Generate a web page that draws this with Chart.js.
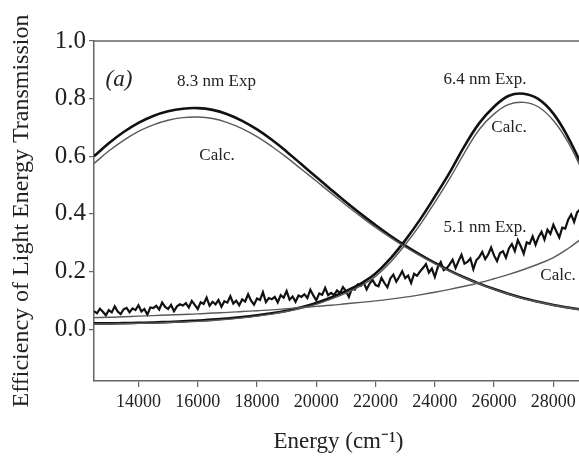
<!DOCTYPE html>
<html><head><meta charset="utf-8">
<script src="https://cdn.jsdelivr.net/npm/chart.js@4/dist/chart.umd.min.js"></script>
<style>html,body{margin:0;padding:0;overflow:hidden;background:#fff}canvas{display:block}</style>
</head><body>
<canvas id="c" width="600" height="457"></canvas>
<script>
// ---- data ----
const energyCoarse = [12500,13000,13500,14000,14500,15000,15500,16000,16500,17000,17500,18000,18500,19000,19500,20000,20500,21000,21500,22000,22500,23000,23500,24000,24500,25000,25500,26000,26500,27000,27500,28000,28500,29000];

const exp83 = [0.600,0.645,0.684,0.716,0.740,0.756,0.765,0.767,0.761,0.746,0.723,0.693,0.657,0.616,0.572,0.528,0.484,0.441,0.400,0.361,0.324,0.290,0.259,0.230,0.203,0.179,0.158,0.139,0.122,0.107,0.095,0.084,0.075,0.067];
const calc83 = [0.575,0.618,0.655,0.686,0.709,0.725,0.734,0.736,0.731,0.717,0.696,0.668,0.634,0.596,0.555,0.514,0.472,0.431,0.391,0.353,0.318,0.285,0.255,0.227,0.201,0.178,0.157,0.138,0.121,0.106,0.094,0.083,0.074,0.066];

const exp64 = [0.020,0.020,0.021,0.022,0.023,0.025,0.027,0.030,0.033,0.037,0.042,0.048,0.055,0.064,0.076,0.091,0.110,0.132,0.158,0.193,0.245,0.308,0.380,0.460,0.543,0.635,0.715,0.772,0.810,0.817,0.798,0.748,0.665,0.560];
const calc64 = [0.018,0.018,0.019,0.020,0.021,0.023,0.025,0.027,0.030,0.034,0.039,0.045,0.052,0.061,0.072,0.086,0.104,0.125,0.150,0.183,0.232,0.293,0.362,0.440,0.522,0.612,0.693,0.747,0.780,0.787,0.771,0.724,0.648,0.545];

const calc51 = [0.040,0.041,0.043,0.045,0.047,0.049,0.051,0.053,0.056,0.058,0.061,0.064,0.067,0.071,0.075,0.079,0.083,0.088,0.093,0.098,0.104,0.111,0.119,0.128,0.138,0.149,0.161,0.175,0.190,0.207,0.226,0.248,0.280,0.318];

const energyFine = [
12500,12600,12700,12800,12900,13000,13100,13200,13300,13400,
13500,13600,13700,13800,13900,14000,14100,14200,14300,14400,
14500,14600,14700,14800,14900,15000,15100,15200,15300,15400,
15500,15600,15700,15800,15900,16000,16100,16200,16300,16400,
16500,16600,16700,16800,16900,17000,17100,17200,17300,17400,
17500,17600,17700,17800,17900,18000,18100,18200,18300,18400,
18500,18600,18700,18800,18900,19000,19100,19200,19300,19400,
19500,19600,19700,19800,19900,20000,20100,20200,20300,20400,
20500,20600,20700,20800,20900,21000,21100,21200,21300,21400,
21500,21600,21700,21800,21900,22000,22100,22200,22300,22400,
22500,22600,22700,22800,22900,23000,23100,23200,23300,23400,
23500,23600,23700,23800,23900,24000,24100,24200,24300,24400,
24500,24600,24700,24800,24900,25000,25100,25200,25300,25400,
25500,25600,25700,25800,25900,26000,26100,26200,26300,26400,
26500,26600,26700,26800,26900,27000,27100,27200,27300,27400,
27500,27600,27700,27800,27900,28000,28100,28200,28300,28400,
28500,28600,28700,28800,28900,29000];
const exp51 = [
0.062,0.055,0.071,0.060,0.048,0.066,0.058,0.079,0.061,0.052,
0.069,0.074,0.058,0.072,0.066,0.083,0.061,0.070,0.050,0.075,
0.073,0.081,0.068,0.092,0.077,0.070,0.084,0.062,0.079,0.086,
0.082,0.090,0.075,0.098,0.084,0.070,0.093,0.087,0.109,0.081,
0.095,0.086,0.101,0.078,0.097,0.092,0.114,0.089,0.099,0.083,
0.103,0.096,0.121,0.099,0.085,0.106,0.101,0.128,0.094,0.108,
0.104,0.112,0.093,0.118,0.109,0.132,0.102,0.113,0.095,0.117,
0.112,0.121,0.108,0.137,0.117,0.100,0.124,0.119,0.143,0.118,
0.126,0.118,0.134,0.125,0.146,0.132,0.112,0.141,0.137,0.155,
0.150,0.162,0.138,0.158,0.171,0.153,0.149,0.178,0.160,0.145,
0.176,0.189,0.165,0.182,0.201,0.177,0.186,0.160,0.192,0.185,
0.200,0.212,0.226,0.196,0.210,0.181,0.215,0.233,0.205,0.211,
0.225,0.241,0.212,0.236,0.258,0.227,0.233,0.245,0.208,0.239,
0.250,0.268,0.243,0.259,0.283,0.255,0.236,0.264,0.270,0.248,
0.280,0.295,0.271,0.309,0.288,0.262,0.301,0.296,0.322,0.293,
0.320,0.338,0.311,0.345,0.331,0.362,0.340,0.318,0.352,0.349,
0.380,0.398,0.372,0.405,0.415,0.418];

const xTickValues = [14000,16000,18000,20000,22000,24000,26000,28000];
const yTickValues = [0.0,0.2,0.4,0.6,0.8,1.0];

const noteTexts = ['(a)','8.3 nm Exp','Calc.','6.4 nm Exp.','Calc.','5.1 nm Exp.','Calc.'];
const noteEnergy = [13344,16633,16650,25693,26503,25693,28157];
const noteValue  = [0.865,0.858,0.604,0.865,0.698,0.354,0.1875];

// ---- chart ----
const SERIF = '"Liberation Serif","Times New Roman",serif';
function pts(xs, ys){ return xs.map((x,i)=>({x:x, y:ys[i]})); }

const notesPlugin = {
  id:'notes',
  afterDatasetsDraw(chart){
    const {ctx, scales:{x, y}} = chart;
    ctx.save();
    ctx.fillStyle = '#222';
    ctx.textAlign = 'center';
    ctx.textBaseline = 'middle';
    noteTexts.forEach((t,i)=>{
      ctx.font = i===0 ? 'italic 23px '+SERIF : '17px '+SERIF;
      ctx.fillText(t, x.getPixelForValue(noteEnergy[i]), y.getPixelForValue(noteValue[i]));
    });
    ctx.restore();
  }
};
const framePlugin = {
  id:'frame',
  afterDraw(chart){
    const {ctx, chartArea:a} = chart;
    ctx.save();
    ctx.strokeStyle = '#666';
    ctx.lineWidth = 1.5;
    ctx.beginPath();
    ctx.moveTo(a.left, a.top); ctx.lineTo(a.right, a.top); ctx.lineTo(a.right, a.bottom);
    ctx.stroke();
    ctx.restore();
  }
};

const expStyle = {borderColor:'#111', borderWidth:2.6, pointRadius:0, fill:false, tension:0.4};
const calcStyle = {borderColor:'#5a5a5a', borderWidth:1.4, pointRadius:0, fill:false, tension:0.4};

new Chart(document.getElementById('c'), {
  type:'line',
  data:{ datasets:[
    Object.assign({label:'8.3 nm Calc.', data:pts(energyCoarse, calc83)}, calcStyle),
    Object.assign({label:'6.4 nm Calc.', data:pts(energyCoarse, calc64)}, calcStyle),
    Object.assign({label:'5.1 nm Calc.', data:pts(energyCoarse, calc51)}, calcStyle),
    Object.assign({label:'8.3 nm Exp', data:pts(energyCoarse, exp83)}, expStyle),
    Object.assign({label:'6.4 nm Exp.', data:pts(energyCoarse, exp64)}, expStyle),
    Object.assign({label:'5.1 nm Exp.', data:pts(energyFine, exp51)}, expStyle, {borderWidth:2.2, tension:0})
  ]},
  options:{
    responsive:false, animation:false, devicePixelRatio:1,
    layout:{padding:{top:41, right:17, left:0, bottom:0}},
    plugins:{legend:{display:false}, tooltip:{enabled:false}},
    scales:{
      x:{
        type:'linear', min:12500, max:29000,
        afterBuildTicks(s){ s.ticks = xTickValues.map(v=>({value:v})); },
        afterFit(s){ s.height = 76; },
        grid:{drawOnChartArea:false, drawTicks:true, tickLength:6, color:'#666', lineWidth:1.2},
        border:{color:'#666', width:1.5},
        ticks:{color:'#222', font:{family:SERIF, size:18}, padding:4, maxRotation:0, callback:v=>String(v)},
        title:{display:true, text:'Energy (cm⁻¹)', color:'#222', font:{family:SERIF, size:23}, padding:{top:0, bottom:1}}
      },
      y:{
        type:'linear', min:-0.18, max:1.0,
        afterBuildTicks(s){ s.ticks = yTickValues.map(v=>({value:v})); },
        afterFit(s){ s.width = 94; },
        grid:{drawOnChartArea:false, drawTicks:true, tickLength:5, color:'#666', lineWidth:1.2},
        border:{color:'#666', width:1.5},
        ticks:{color:'#222', font:{family:SERIF, size:25}, padding:3, callback:v=>Number(v).toFixed(1)},
        title:{display:true, text:'Efficiency of Light Energy Transmission', color:'#222', font:{family:SERIF, size:24}, padding:{top:7, bottom:0}}
      }
    }
  },
  plugins:[notesPlugin, framePlugin]
});
</script>
</body></html>
